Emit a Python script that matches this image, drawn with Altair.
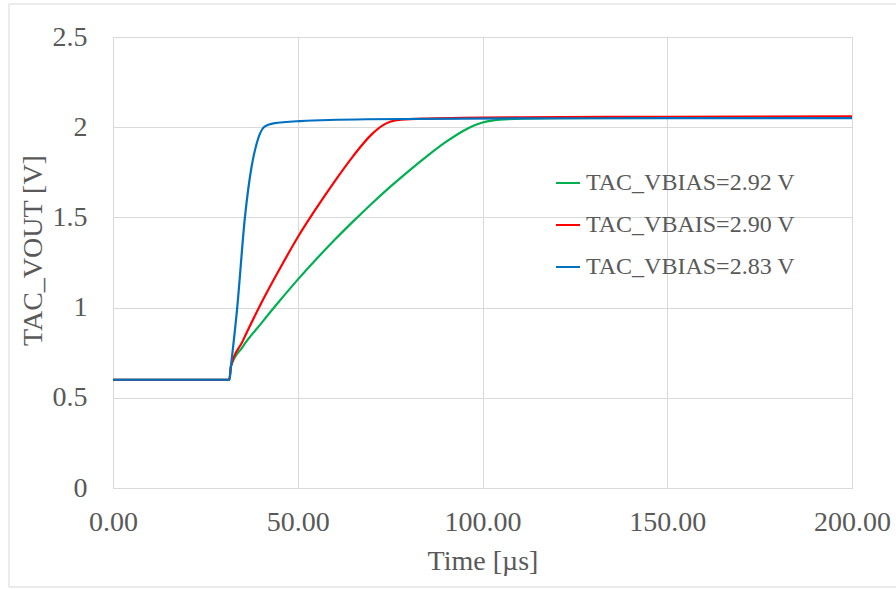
import altair as alt
import pandas as pd

# Series data (time in µs, voltage in V)
green_t = [0, 31.5, 31.9, 35, 40, 45, 50, 55, 60, 65, 70, 75, 80, 85, 90, 95, 98, 100, 103, 107, 115, 150, 200]
green_v = [0.60, 0.60, 0.672, 0.78, 0.91, 1.035, 1.155, 1.268, 1.376, 1.478, 1.576, 1.669, 1.757, 1.840, 1.917, 1.982, 2.012, 2.026, 2.038, 2.045, 2.049, 2.051, 2.052]

red_t = [0, 31.5, 31.9, 35, 40, 45, 50, 55, 60, 65, 70, 73, 75, 78, 85, 110, 150, 200]
red_v = [0.60, 0.60, 0.672, 0.81, 1.02, 1.21, 1.39, 1.55, 1.70, 1.84, 1.96, 2.01, 2.03, 2.042, 2.048, 2.055, 2.058, 2.06]

blue_t = [0, 31.5, 31.9, 33.6, 35.7, 37.5, 38.9, 39.8, 41.0, 43.4, 50.6, 68.7, 110.1, 150, 200]
blue_v = [0.60, 0.60, 0.672, 0.996, 1.50, 1.781, 1.911, 1.966, 2.003, 2.021, 2.034, 2.044, 2.049, 2.05, 2.05]

series_names = ["TAC_VBIAS=2.92 V", "TAC_VBAIS=2.90 V", "TAC_VBIAS=2.83 V"]
series_colors = ["#00B050", "#FF0000", "#0070C0"]

x_ticks = [0, 50, 100, 150, 200]
y_ticks = [0, 0.5, 1, 1.5, 2, 2.5]

rows = []
for name, ts, vs in zip(series_names, [green_t, red_t, blue_t], [green_v, red_v, blue_v]):
    for i, (t, v) in enumerate(zip(ts, vs)):
        rows.append({"series": name, "t": t, "v": v, "i": i})
df = pd.DataFrame(rows)

FONT = "Liberation Serif"
GREY = "#595959"
GRID = "#D9D9D9"

lines = alt.Chart(df).mark_line(strokeWidth=2.2, interpolate="monotone").encode(
    x=alt.X("t:Q",
            scale=alt.Scale(domain=[0, 200], nice=False, zero=False),
            axis=alt.Axis(values=x_ticks, format=".2f", title="Time [µs]",
                          labelFontSize=28, labelFont=FONT, labelColor=GREY,
                          labelPadding=20, tickSize=0, domainColor=GRID,
                          gridColor=GRID, labelFlush=False,
                          titleFontSize=28, titleFont=FONT, titleColor=GREY,
                          titleFontWeight="normal", titleX=369.5, titleY=73,
                          titleBaseline="middle")),
    y=alt.Y("v:Q",
            scale=alt.Scale(domain=[0, 2.5], nice=False),
            axis=alt.Axis(values=y_ticks, format="~g", title="TAC_VOUT [V]",
                          labelFontSize=28, labelFont=FONT, labelColor=GREY,
                          labelPadding=26, tickSize=0, domainColor=GRID,
                          gridColor=GRID, labelFlush=False,
                          titleFontSize=28, titleFont=FONT, titleColor=GREY,
                          titleFontWeight="normal", titleX=-80, titleY=213,
                          titleAngle=-90, titleBaseline="middle", titleAlign="center")),
    color=alt.Color("series:N",
                    scale=alt.Scale(domain=series_names, range=series_colors),
                    sort=series_names,
                    legend=alt.Legend(title=None, orient="none", legendX=442, legendY=133,
                                      symbolType="stroke", symbolSize=576,
                                      symbolStrokeWidth=2, labelFontSize=24,
                                      labelFont=FONT, labelColor=GREY, labelLimit=400,
                                      labelOffset=5, rowPadding=17)),
    order=alt.Order("i:Q"),
)

border = alt.Chart(pd.DataFrame({"a": [0]})).mark_rect(
    fill=None, stroke=GRID, strokeWidth=1
).encode(
    x=alt.value(-104), x2=alt.value(790),
    y=alt.value(-33), y2=alt.value(550),
)

chart = alt.layer(border, lines).properties(
    width=739, height=451,
    autosize=alt.AutoSizeParams(type="none"),
    padding={"left": 113, "top": 37, "right": 44, "bottom": 101},
    background="white",
).configure_view(stroke=GRID, strokeWidth=1)

chart.save("out.html", embed_options={"renderer": "svg", "actions": False})
